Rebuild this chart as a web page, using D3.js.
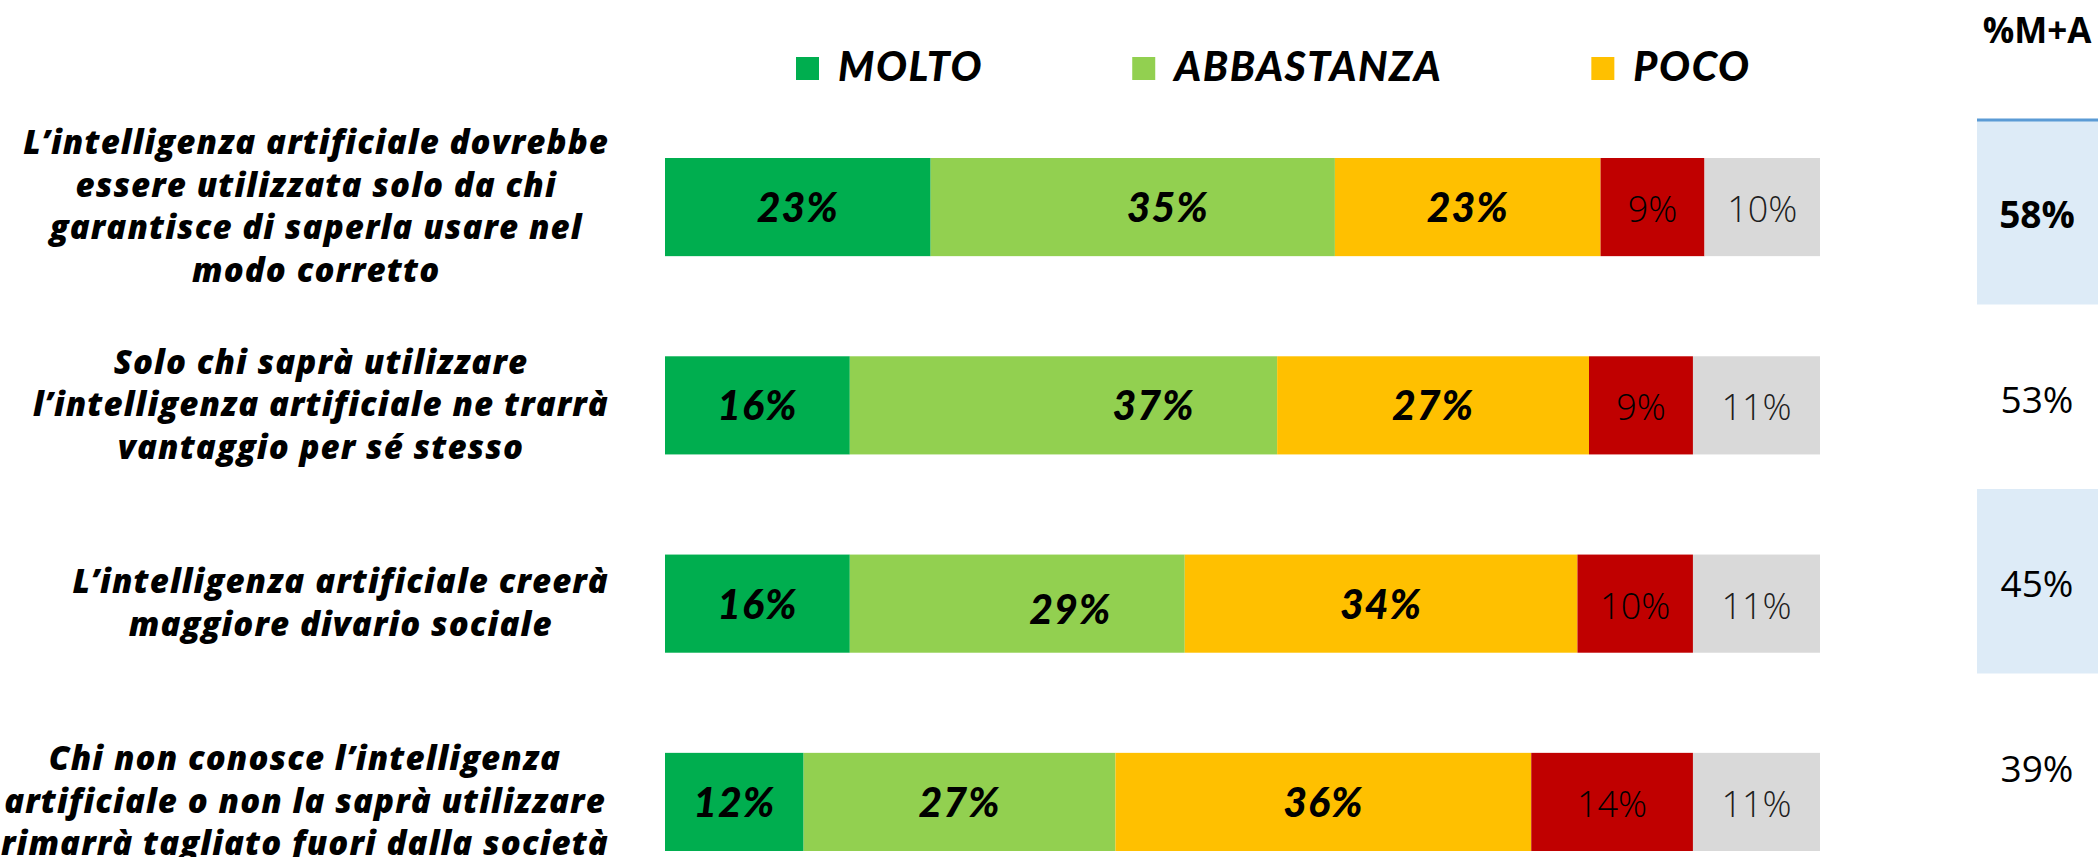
<!DOCTYPE html>
<html lang="it">
<head>
<meta charset="utf-8">
<title>Intelligenza artificiale</title>
<style>
  body { margin: 0; background: #fff; overflow: hidden; }
  text { font-family: Lato, "Open Sans", sans-serif; }
</style>
</head>
<body>
<div id="chart"></div>
<script src="https://d3js.org/d3.v7.min.js"></script>
<script>
// values
const questions = [
  ["L’intelligenza artificiale dovrebbe", "essere utilizzata solo da chi", "garantisce di saperla usare nel", "modo corretto"],
  ["Solo chi saprà utilizzare", "l’intelligenza artificiale ne trarrà", "vantaggio per sé stesso"],
  ["L’intelligenza artificiale creerà", "maggiore divario sociale"],
  ["Chi non conosce l’intelligenza", "artificiale o non la saprà utilizzare", "rimarrà tagliato fuori dalla società"]
];
const molto      = [23, 16, 16, 12];
const abbastanza = [35, 37, 29, 27];
const poco       = [23, 27, 34, 36];
const perNiente  = [9, 9, 10, 14];
const nonSa      = [10, 11, 11, 11];
const sommaMA    = [58, 53, 45, 39];
const legendNames = ["MOLTO", "ABBASTANZA", "POCO"];
const keys = ["molto", "abbastanza", "poco", "perNiente", "nonSa"];

const colors = {
  molto: "#00AE4F", abbastanza: "#92D050", poco: "#FFC000",
  perNiente: "#C00000", nonSa: "#D9D9D9"
};
// the light-green labels are not centred on the slide
const abbNudge = [[35, 0], [90, 0], [53, 5], [0, 0]];

const width = 2098, height = 857;

const rows = questions.map((q, i) => ({
  idx: i, molto: molto[i], abbastanza: abbastanza[i], poco: poco[i],
  perNiente: perNiente[i], nonSa: nonSa[i]
}));

const svg = d3.select("#chart").append("svg")
    .attr("width", width)
    .attr("height", height);

const x = d3.scaleLinear().domain([0, 100]).range([665, 1820]);
const y = d3.scaleBand()
    .domain(rows.map(d => d.idx))
    .range([158, 851])
    .paddingInner(0.505)
    .paddingOuter(0);

const stacked = d3.stack().keys(keys)(rows);
const light = k => k == "perNiente" || k == "nonSa";

// bars
const layers = svg.append("g").selectAll("g")
    .data(stacked)
    .enter().append("g")
    .attr("fill", d => colors[d.key]);

layers.selectAll("rect")
    .data(d => d.map(s => ({key: d.key, s: s})))
    .enter().append("rect")
    .attr("x", d => x(d.s[0]))
    .attr("y", d => y(d.s.data.idx))
    .attr("width", d => x(d.s[1]) - x(d.s[0]))
    .attr("height", y.bandwidth());

// labels inside the bars
layers.selectAll("text")
    .data(d => d.map(s => ({key: d.key, s: s})))
    .enter().append("text")
    .attr("text-anchor", "middle")
    .attr("x", d => {
      let cx = (x(d.s[0]) + x(d.s[1])) / 2;
      if (d.key == "abbastanza") cx += abbNudge[d.s.data.idx][0];
      return cx;
    })
    .attr("y", d => {
      let cy = y(d.s.data.idx) + y.bandwidth() / 2;
      if (d.key == "abbastanza") cy += abbNudge[d.s.data.idx][1];
      return cy + 15;
    })
    .attr("fill", d => d.key == "nonSa" ? "#1e1e1e" : "#000")
    .style("font-family", d => light(d.key) ? "'Open Sans', sans-serif" : "Lato, sans-serif")
    .style("font-weight", d => light(d.key) ? 300 : 900)
    .style("font-style", d => light(d.key) ? "normal" : "italic")
    .style("font-size", d => light(d.key) ? "36px" : "41px")
    .style("letter-spacing", d => light(d.key) ? "0px" : "1px")
    .text(d => d.s.data[d.key] + "%");

// question texts, each block centred on its widest line, right edge aligned
const lineH = 42.5, textRight = 609;
questions.forEach((lines, i) => {
  const cy = y(i) + y.bandwidth() / 2;
  const g = svg.append("g");
  const t = g.selectAll("text")
      .data(lines)
      .enter().append("text")
      .attr("text-anchor", "middle")
      .attr("y", (d, k) => cy + (k - (lines.length - 1) / 2) * lineH + 11)
      .style("font-family", "'Open Sans', sans-serif")
      .style("font-weight", 800)
      .style("font-style", "italic")
      .style("font-size", "33px")
      .style("letter-spacing", "1.1px")
      .attr("fill", "#000")
      .text(d => d);
  let maxW = 0;
  t.each(function() { maxW = Math.max(maxW, this.getComputedTextLength()); });
  t.attr("x", textRight - maxW / 2);
});

// legend
let lx = 796;
legendNames.forEach((name, i) => {
  svg.append("rect")
      .attr("x", lx).attr("y", 57)
      .attr("width", 23).attr("height", 23)
      .attr("fill", colors[keys[i]]);
  const t = svg.append("text")
      .attr("x", lx + 42).attr("y", 81)
      .style("font-weight", 900)
      .style("font-style", "italic")
      .style("font-size", "41px")
      .style("letter-spacing", "1.6px")
      .attr("fill", "#000")
      .text(name);
  lx += 42 + t.node().getComputedTextLength() + 149;
});

// %M+A column
const yr = d3.scaleBand().domain(d3.range(sommaMA.length)).range([120, 858]);
const colX = 1977, colCx = 2037;

svg.append("g").selectAll("rect")
    .data(sommaMA.map((v, i) => i).filter(i => i % 2 == 0))
    .enter().append("rect")
    .attr("x", colX)
    .attr("y", d => yr(d))
    .attr("width", width - colX)
    .attr("height", yr.bandwidth())
    .attr("fill", "#DDEBF7");

svg.append("line")
    .attr("x1", colX).attr("x2", width)
    .attr("y1", yr(0)).attr("y2", yr(0))
    .attr("stroke", "#5B9BD5")
    .attr("stroke-width", 3);

svg.append("text")
    .attr("x", colCx).attr("y", 43)
    .attr("text-anchor", "middle")
    .style("font-family", "'Open Sans', sans-serif")
    .style("font-weight", 700)
    .style("font-size", "35px")
    .text("%M+A");

svg.append("g").selectAll("text")
    .data(sommaMA)
    .enter().append("text")
    .attr("x", colCx)
    .attr("y", (d, i) => yr(i) + yr.bandwidth() / 2 + 16)
    .attr("text-anchor", "middle")
    .style("font-family", "'Open Sans', sans-serif")
    .style("font-weight", (d, i) => i == 0 ? 700 : 400)
    .style("font-size", "37px")
    .text(d => d + "%");
</script>
</body>
</html>
